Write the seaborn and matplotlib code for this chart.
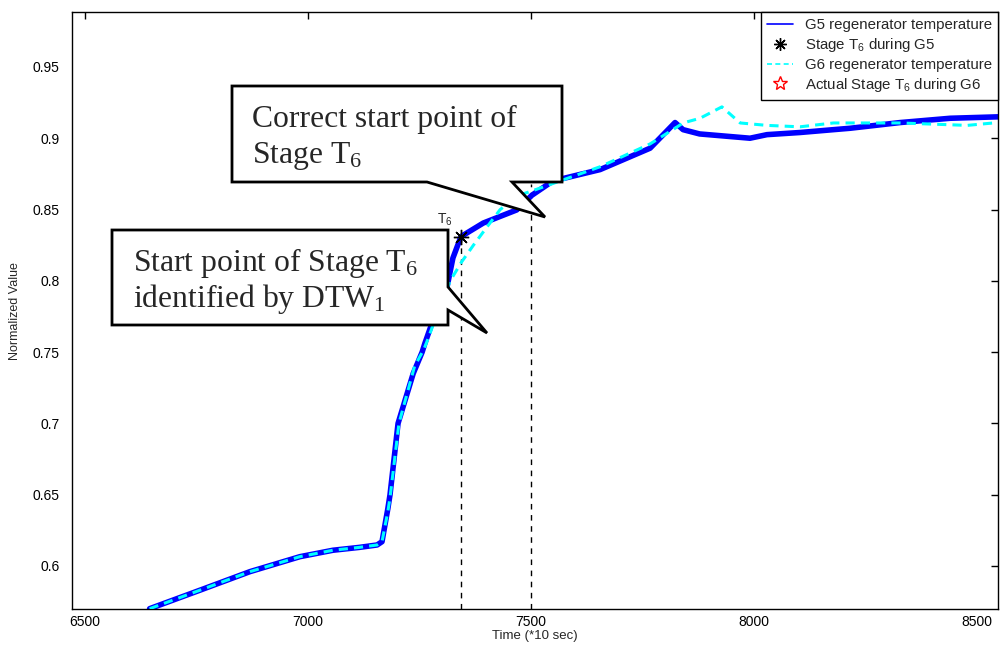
import matplotlib
matplotlib.use("Agg")
import matplotlib.pyplot as plt
from matplotlib.lines import Line2D
from matplotlib.patches import Polygon
import seaborn as sns
import pandas as pd

# ---- data ----
g5_time = [6645, 6758, 6870, 6982, 7056, 7115, 7155, 7166, 7179, 7184, 7202, 7236,
           7256, 7262, 7289, 7312, 7325, 7343, 7393, 7468, 7502, 7549, 7655, 7767,
           7823, 7841, 7878, 7991, 8029, 8103, 8178, 8216, 8328, 8440, 8547]
g5_value = [0.570, 0.583, 0.596, 0.6065, 0.611, 0.613, 0.6147, 0.617, 0.640, 0.650, 0.700, 0.735,
            0.750, 0.756, 0.780, 0.796, 0.816, 0.831, 0.8405, 0.8497, 0.860, 0.870, 0.878, 0.893,
            0.911, 0.906, 0.903, 0.900, 0.9025, 0.904, 0.906, 0.907, 0.911, 0.914, 0.915]

g6_time = [6645, 6758, 6870, 6982, 7056, 7115, 7155, 7166, 7179, 7184, 7204, 7239,
           7260, 7270, 7299, 7319, 7344, 7371, 7402, 7431, 7473, 7502, 7565, 7655,
           7767, 7823, 7841, 7879, 7928, 7969, 8029, 8103, 8178, 8328, 8478, 8547]
g6_value = [0.570, 0.583, 0.596, 0.6065, 0.611, 0.613, 0.6147, 0.617, 0.638, 0.648, 0.700, 0.740,
            0.752, 0.760, 0.785, 0.800, 0.813, 0.825, 0.838, 0.850, 0.860, 0.863, 0.870, 0.880,
            0.896, 0.907, 0.9107, 0.914, 0.922, 0.9107, 0.909, 0.908, 0.9107, 0.9107, 0.909, 0.911]

t6_g5_time = [7343]
t6_g5_value = [0.831]

vline_x = [7343, 7500]
vline_top = [0.831, 0.868]

x_ticks = [6500, 7000, 7500, 8000, 8500]
y_ticks = [0.6, 0.65, 0.7, 0.75, 0.8, 0.85, 0.9, 0.95]
y_tick_labels = ["0.6", "0.65", "0.7", "0.75", "0.8", "0.85", "0.9", "0.95"]

x_lim = (6471, 8547)
y_lim = (0.5698, 0.9882)

# ---- style ----
sns.set_style("white")
plt.rcParams["font.family"] = ["Liberation Sans", "DejaVu Sans"]

fig = plt.figure(figsize=(10, 6.46), dpi=100)
ax = fig.add_axes([0.072, 0.0573, 0.926, 0.9234])

df5 = pd.DataFrame({"t": g5_time, "v": g5_value})
df6 = pd.DataFrame({"t": g6_time, "v": g6_value})

sns.lineplot(data=df5, x="t", y="v", ax=ax, color="#0000FF", lw=4.0, sort=False,
             estimator=None, zorder=2)
sns.lineplot(data=df6, x="t", y="v", ax=ax, color="#00FFFF", lw=2.2, sort=False,
             estimator=None, zorder=3)
ax.lines[-1].set_linestyle((0, (3, 2)))

ax.vlines(vline_x, y_lim[0], vline_top, colors="black", linestyles=(0, (4, 4)), lw=1.0, zorder=1)

ax.plot(t6_g5_time, t6_g5_value, linestyle="none", marker=(8, 2, 0), markersize=11,
        color="black", mew=1.0, zorder=5)
ax.text(7307, 0.837, r"T$\mathregular{_6}$", fontsize=10, ha="center", va="bottom", zorder=5)

ax.set_xlim(*x_lim)
ax.set_ylim(*y_lim)
ax.set_xticks(x_ticks)
ax.set_xticklabels([str(t) for t in x_ticks])
ax.set_yticks(y_ticks)
ax.set_yticklabels(y_tick_labels)
ax.tick_params(direction="in", length=5, width=1, top=True, right=True,
               labelsize=10, colors="black")
ax.tick_params(axis="x", pad=4)
ax.tick_params(axis="y", pad=9)
for s in ax.spines.values():
    s.set_color("black")
    s.set_linewidth(1.0)
ax.set_xlabel("Time (*10 sec)", fontsize=9.5, labelpad=1)
ax.set_ylabel("Normalized Value", fontsize=9, labelpad=8)

# ---- legend ----
handles = [
    Line2D([], [], color="#0000FF", lw=1.2),
    Line2D([], [], linestyle="none", marker=(8, 2, 0), markersize=9, color="black", mew=1.0),
    Line2D([], [], color="#00FFFF", lw=1.2, linestyle=(0, (3, 2))),
    Line2D([], [], linestyle="none", marker="*", markersize=10, markerfacecolor="none",
           markeredgecolor="red", mew=1.0),
]
labels = ["G5 regenerator temperature", r"Stage T$\mathregular{_6}$ during G5",
          "G6 regenerator temperature", r"Actual Stage T$\mathregular{_6}$ during G6"]
leg = ax.legend(handles, labels, loc="upper right", borderaxespad=0, fontsize=10.8,
                frameon=True, fancybox=False, framealpha=1, edgecolor="black",
                handlelength=1.75, handletextpad=0.8, labelspacing=0.25, borderpad=0.4)
leg.get_frame().set_linewidth(1.0)
leg.set_zorder(10)

# ---- callouts (figure pixel coordinates) ----
W, H = 1000, 646

def fpt(pts):
    return [(x / W, 1 - y / H) for x, y in pts]

call1 = [(232, 86), (562, 86), (562, 182), (512, 182), (545, 217), (427, 182), (232, 182)]
call2 = [(112, 230), (448, 230), (448, 287), (487, 333), (448, 310), (448, 325), (112, 325)]
for pts in (call1, call2):
    fig.patches.append(Polygon(fpt(pts), closed=True, transform=fig.transFigure,
                               facecolor="white", edgecolor="black", lw=2.0, zorder=8))

serif = ["Liberation Serif", "DejaVu Serif"]
txt = [
    (252, 127, "Correct start point of"),
    (252, 163, r"Stage T$\mathregular{_6}$"),
    (133, 271, r"Start point of Stage T$\mathregular{_6}$"),
    (133, 307, r"identified by DTW$\mathregular{_1}$"),
]
for x, y, s in txt:
    fig.text(x / W, 1 - y / H, s, family=serif, fontsize=22.8, ha="left",
             va="baseline", zorder=9)

fig.savefig("out.png", dpi=100)
